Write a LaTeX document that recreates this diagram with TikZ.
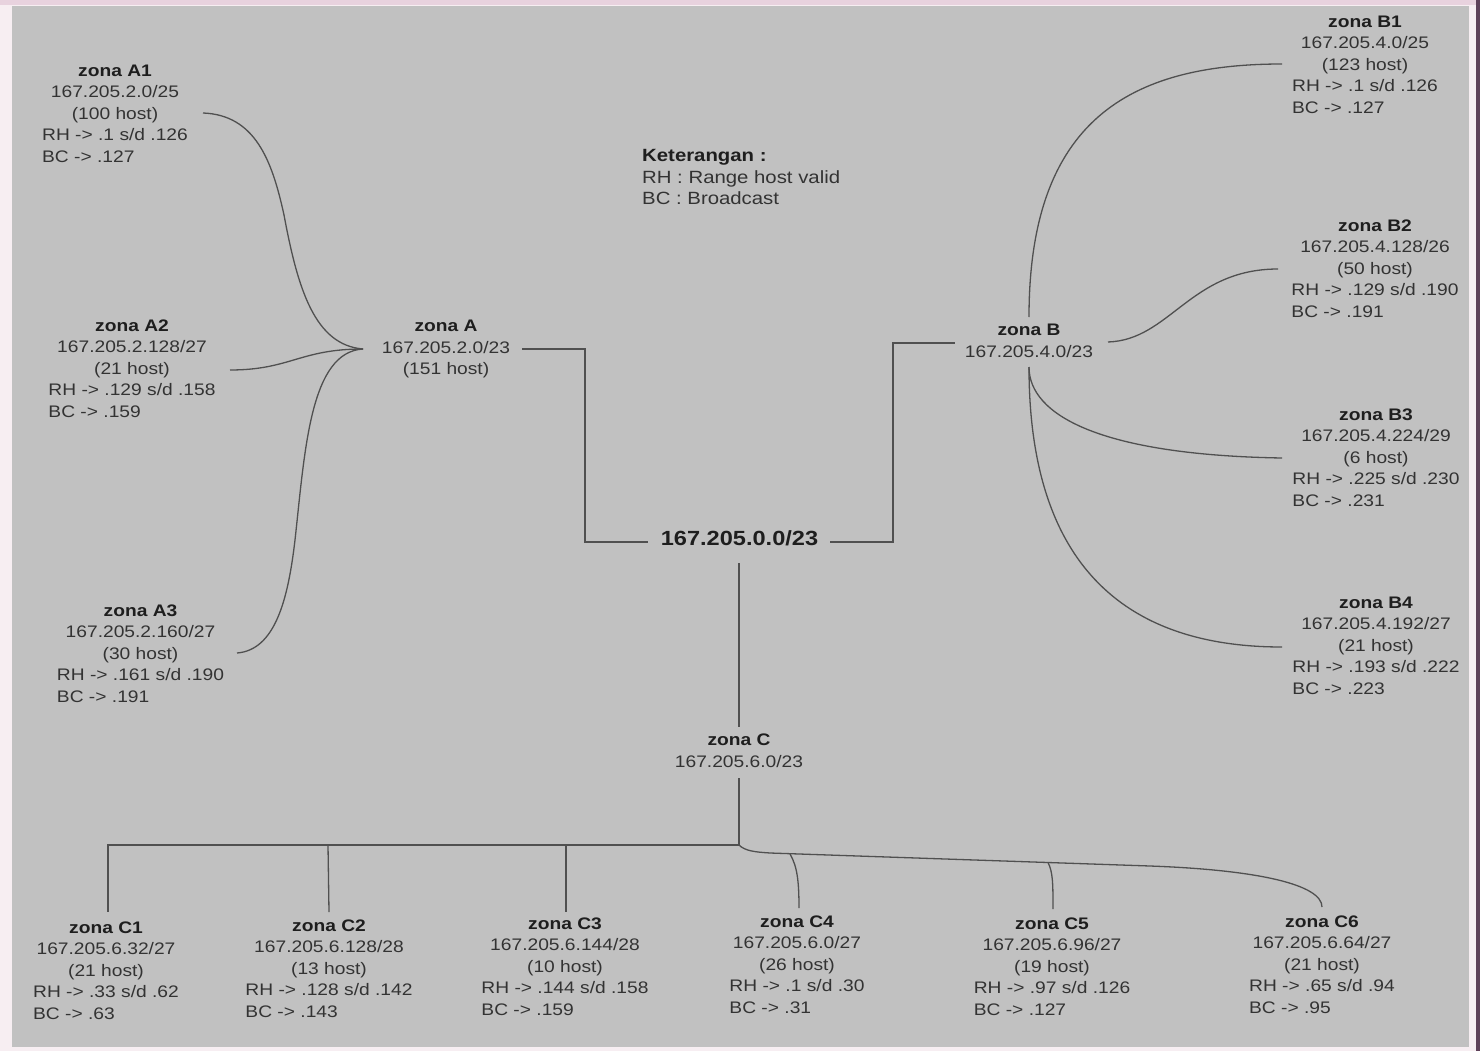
\documentclass[tikz,border=0pt]{standalone}
\usepackage{fontspec}
\setmainfont{Liberation Sans}[FakeStretch=1.15]
\definecolor{pagebg}{HTML}{F7EEF2}
\definecolor{topstrip}{HTML}{E8D2DE}
\definecolor{panel}{HTML}{C1C1C1}
\definecolor{edgec}{HTML}{5E4159}
\definecolor{txt}{HTML}{333333}
\definecolor{txtb}{HTML}{1E1E1E}
\definecolor{wirec}{HTML}{505050}
\newcommand\zoneblk[5]{\begin{tabular}{@{}c@{}}\textcolor{txtb}{\textbf{#1}}\\#2\\(#3)\\\multicolumn{1}{@{}l@{}}{RH -> #4}\\\multicolumn{1}{@{}l@{}}{BC -> #5}\end{tabular}}
\newcommand\hubblk[2]{\begin{tabular}{@{}c@{}}\textcolor{txtb}{\textbf{#1}}\\#2\end{tabular}}
\tikzset{
  zone/.style={inner sep=0pt, text=txt, font=\fontsize{16.7}{21.5}\selectfont},
  legendtxt/.style={inner sep=0pt, text=txt, font=\fontsize{17.7}{21.5}\selectfont},
  roottxt/.style={inner sep=0pt, text=txtb, font=\fontsize{20.5}{24}\selectfont\bfseries},
  wire/.style={draw=wirec, line width=1.3pt}
}
\begin{document}
\begin{tikzpicture}[x=1pt,y=-1pt]
\useasboundingbox (0,0) rectangle (1480,1051);
\fill[pagebg] (0,0) rectangle (1480,1051);
\fill[topstrip] (0,0) rectangle (1480,5);
\fill[panel] (12,6) rectangle (1469,1047);
\fill[edgec] (1476,0) rectangle (1480,1051);

% legend and root
\node[legendtxt, anchor=west] (leg) at (642,179) {\begin{tabular}{@{}l@{}}\textcolor{txtb}{\textbf{Keterangan :}}\\RH : Range host valid\\BC : Broadcast\end{tabular}};
\node[roottxt] (root) at (739.5,538) {167.205.0.0/23};

% hubs
\node[zone] (zA) at (446,349) {\begin{tabular}{@{}c@{}}\textcolor{txtb}{\textbf{zona A}}\\167.205.2.0/23\\(151 host)\end{tabular}};
\node[zone] (zB) at (1029,342) {\hubblk{zona B}{167.205.4.0/23}};
\node[zone] (zC) at (739,752) {\hubblk{zona C}{167.205.6.0/23}};

% zone A children
\node[zone] (A1) at (115,115) {\zoneblk{zona A1}{167.205.2.0/25}{100 host}{.1 s/d .126}{.127}};
\node[zone] (A2) at (132,370) {\zoneblk{zona A2}{167.205.2.128/27}{21 host}{.129 s/d .158}{.159}};
\node[zone] (A3) at (140.5,655) {\zoneblk{zona A3}{167.205.2.160/27}{30 host}{.161 s/d .190}{.191}};

% zone B children
\node[zone] (B1) at (1365,66) {\zoneblk{zona B1}{167.205.4.0/25}{123 host}{.1 s/d .126}{.127}};
\node[zone] (B2) at (1375,270) {\zoneblk{zona B2}{167.205.4.128/26}{50 host}{.129 s/d .190}{.191}};
\node[zone] (B3) at (1376,459) {\zoneblk{zona B3}{167.205.4.224/29}{6 host}{.225 s/d .230}{.231}};
\node[zone] (B4) at (1376,647) {\zoneblk{zona B4}{167.205.4.192/27}{21 host}{.193 s/d .222}{.223}};

% zone C children
\node[zone] (C1) at (106,972) {\zoneblk{zona C1}{167.205.6.32/27}{21 host}{.33 s/d .62}{.63}};
\node[zone] (C2) at (329,970) {\zoneblk{zona C2}{167.205.6.128/28}{13 host}{.128 s/d .142}{.143}};
\node[zone] (C3) at (565,968) {\zoneblk{zona C3}{167.205.6.144/28}{10 host}{.144 s/d .158}{.159}};
\node[zone] (C4) at (797,966) {\zoneblk{zona C4}{167.205.6.0/27}{26 host}{.1 s/d .30}{.31}};
\node[zone] (C5) at (1052,968) {\zoneblk{zona C5}{167.205.6.96/27}{19 host}{.97 s/d .126}{.127}};
\node[zone] (C6) at (1322,966) {\zoneblk{zona C6}{167.205.6.64/27}{21 host}{.65 s/d .94}{.95}};

% connection points
\coordinate (aJ) at (363,349);
\coordinate (a1p) at (203,113);
\coordinate (a2p) at (230,370);
\coordinate (a3p) at (237,653);
\coordinate (zAe) at (522,349);
\coordinate (rootW) at (648,542);
\coordinate (rootE) at (830,542);
\coordinate (rootS) at (739,563);
\coordinate (zBw) at (955,343);
\coordinate (zBn) at (1029,317);
\coordinate (zBe) at (1108,342);
\coordinate (zBs) at (1029,367);
\coordinate (zCn) at (739,727);
\coordinate (zCs) at (739,778);
\coordinate (b1p) at (1282,64);
\coordinate (b2p) at (1278,269);
\coordinate (b3p) at (1282,458);
\coordinate (b4p) at (1282,647);
\coordinate (bus) at (739,845);
\coordinate (c1p) at (108,912);
\coordinate (c2p) at (329,912);
\coordinate (c3p) at (566,912);
\coordinate (c4p) at (799,908);
\coordinate (c5p) at (1053,909);
\coordinate (c6p) at (1322,907);
\coordinate (j4) at (790,854);
\coordinate (j5) at (1048,862.5);

% zone A connectors
\draw[wire] (a1p) .. controls (255,115) and (272,160) .. (284,215)
                  .. controls (298,290) and (315,345) .. (aJ);
\draw[wire] (a2p) .. controls (290,370) and (300,349) .. (aJ);
\draw[wire] (a3p) .. controls (275,650) and (288,600) .. (295,540)
                  .. controls (305,450) and (310,352) .. (aJ);

% trunk
\draw[wire] (zAe) -| (585,542) -- (rootW);
\draw[wire] (rootE) -| (893,343) -- (zBw);
\draw[wire] (rootS) -- (zCn);

% zone B connectors
\draw[wire] (zBn) .. controls (1029,120) and (1130,64) .. (b1p);
\draw[wire] (zBe) .. controls (1170,340) and (1190,269) .. (b2p);
\draw[wire] (zBs) .. controls (1029,415) and (1100,455) .. (b3p);
\draw[wire] (zBs) .. controls (1029,560) and (1120,647) .. (b4p);

% zone C connectors
\draw[wire] (zCs) -- (bus);
\draw[wire] (bus) -- (108,845) -- (c1p);
\draw[wire] (328,845) -- (c2p);
\draw[wire] (566,845) -- (c3p);
\draw[wire] (bus) .. controls (745,851) and (755,852) .. (770,853)
      -- (1150,866) .. controls (1260,870) and (1322,885) .. (c6p);
\draw[wire] (j4) .. controls (797,866) and (799,880) .. (c4p);
\draw[wire] (j5) .. controls (1053,872) and (1053,885) .. (c5p);
\end{tikzpicture}
\end{document}
